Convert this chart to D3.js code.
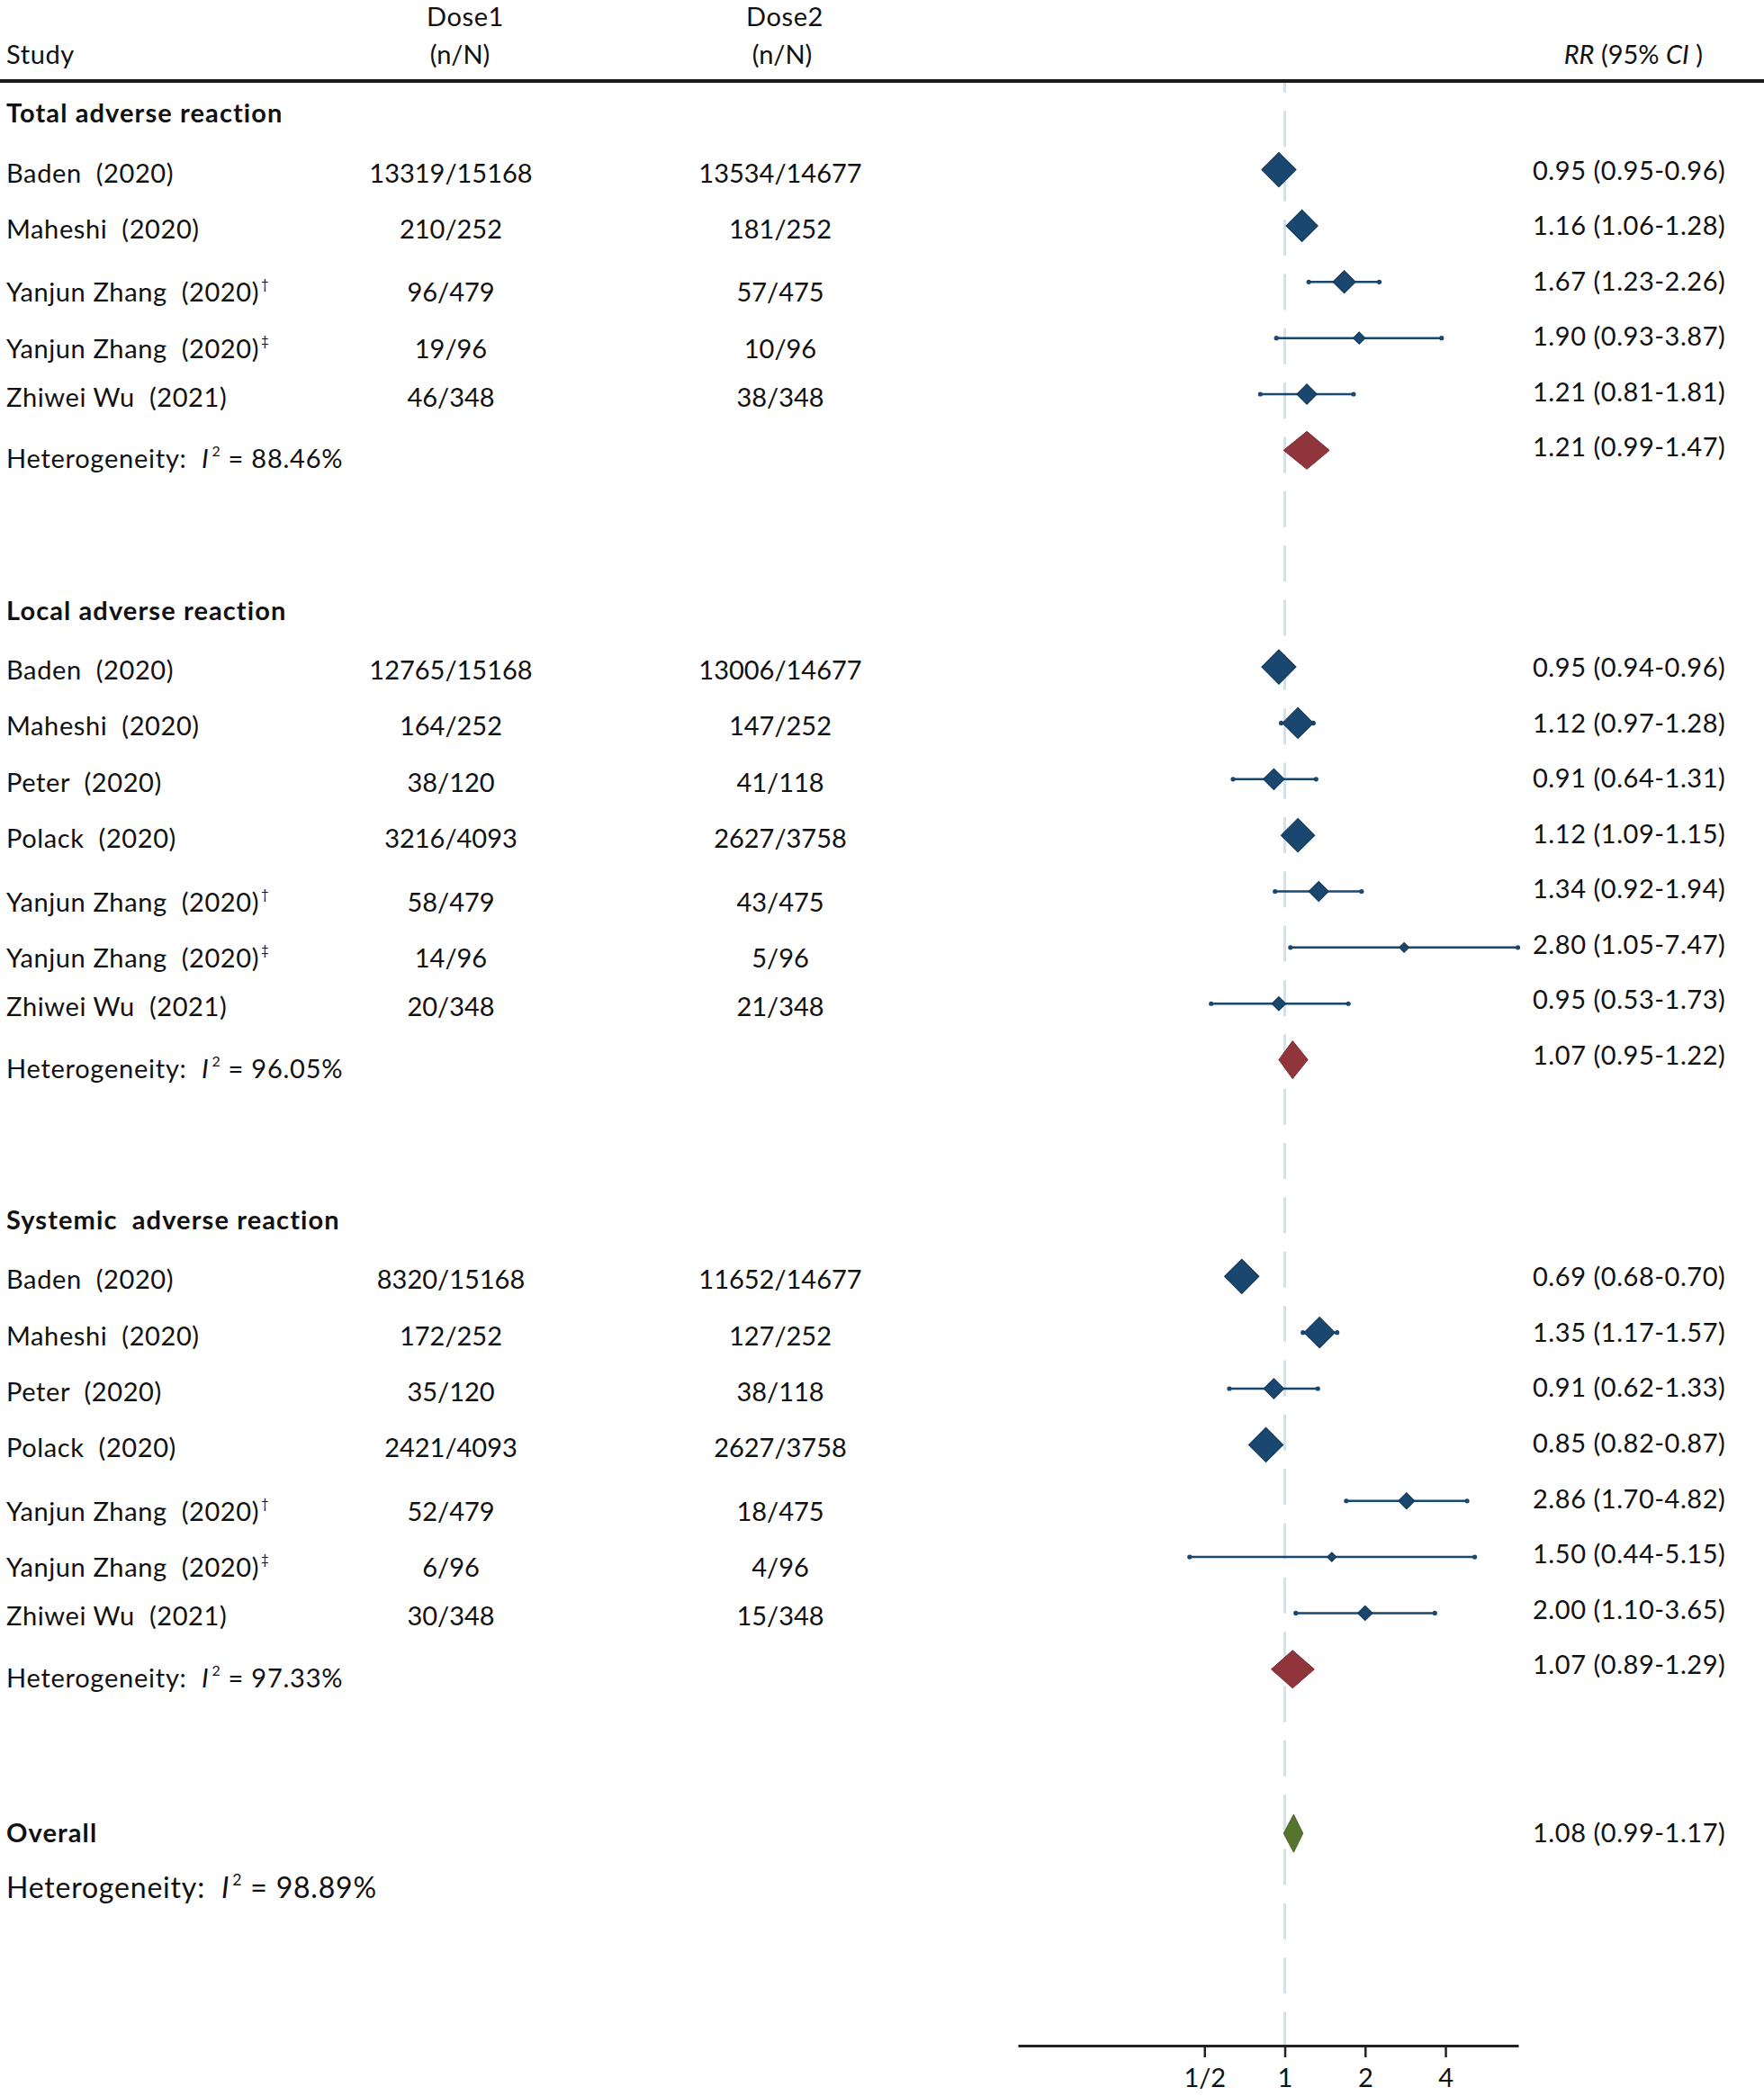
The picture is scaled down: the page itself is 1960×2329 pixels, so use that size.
<!DOCTYPE html>
<html>
<head>
<meta charset="utf-8">
<script src="https://cdn.jsdelivr.net/npm/d3@7"></script>
<style>
  html, body { margin: 0; padding: 0; background: #ffffff; }
  svg { display: block; }
  text { white-space: pre; font-family: Lato, "Open Sans", "Liberation Sans", sans-serif; fill: #111; }
</style>
</head>
<body>
<svg id="chart" width="1960" height="2329"></svg>
<script>
// ---------------- DATA ----------------
const sectionTitles = ["Total adverse reaction", "Local adverse reaction", "Systemic  adverse reaction"];

const totalStudy  = ["Baden  (2020)", "Maheshi  (2020)", "Yanjun Zhang  (2020)", "Yanjun Zhang  (2020)", "Zhiwei Wu  (2021)"];
const totalMark   = ["", "", "†", "‡", ""];
const totalDose1  = ["13319/15168", "210/252", "96/479", "19/96", "46/348"];
const totalDose2  = ["13534/14677", "181/252", "57/475", "10/96", "38/348"];
const totalRR     = [0.95, 1.16, 1.67, 1.90, 1.21];
const totalLo     = [0.95, 1.06, 1.23, 0.93, 0.81];
const totalHi     = [0.96, 1.28, 2.26, 3.87, 1.81];
const totalWeight = [10.0, 8.5, 4.3, 1.2, 3.4];

const localStudy  = ["Baden  (2020)", "Maheshi  (2020)", "Peter  (2020)", "Polack  (2020)", "Yanjun Zhang  (2020)", "Yanjun Zhang  (2020)", "Zhiwei Wu  (2021)"];
const localMark   = ["", "", "", "", "†", "‡", ""];
const localDose1  = ["12765/15168", "164/252", "38/120", "3216/4093", "58/479", "14/96", "20/348"];
const localDose2  = ["13006/14677", "147/252", "41/118", "2627/3758", "43/475", "5/96", "21/348"];
const localRR     = [0.95, 1.12, 0.91, 1.12, 1.34, 2.80, 0.95];
const localLo     = [0.94, 0.97, 0.64, 1.09, 0.92, 1.05, 0.53];
const localHi     = [0.96, 1.28, 1.31, 1.15, 1.94, 7.47, 1.73];
const localWeight = [10.0, 8.0, 3.7, 9.5, 3.3, 0.8, 1.6];

const systStudy   = ["Baden  (2020)", "Maheshi  (2020)", "Peter  (2020)", "Polack  (2020)", "Yanjun Zhang  (2020)", "Yanjun Zhang  (2020)", "Zhiwei Wu  (2021)"];
const systMark    = ["", "", "", "", "†", "‡", ""];
const systDose1   = ["8320/15168", "172/252", "35/120", "2421/4093", "52/479", "6/96", "30/348"];
const systDose2   = ["11652/14677", "127/252", "38/118", "2627/3758", "18/475", "4/96", "15/348"];
const systRR      = [0.69, 1.35, 0.91, 0.85, 2.86, 1.50, 2.00];
const systLo      = [0.68, 1.17, 0.62, 0.82, 1.70, 0.44, 1.10];
const systHi      = [0.70, 1.57, 1.33, 0.87, 4.82, 5.15, 3.65];
const systWeight  = [10.0, 8.0, 3.4, 10.0, 2.2, 0.7, 1.8];

const pooledRR = [1.21, 1.07, 1.07];
const pooledLo = [0.99, 0.95, 0.89];
const pooledHi = [1.47, 1.22, 1.29];
const pooledI2 = ["88.46%", "96.05%", "97.33%"];

const overallRR = 1.08, overallLo = 0.99, overallHi = 1.17, overallI2 = "98.89%";

const tickValues = [0.5, 1, 2, 4];
const tickLabels = ["1/2", "1", "2", "4"];

// ---------------- BUILD ----------------
function zipSection(study, mark, d1, d2, rr, lo, hi, w) {
  return study.map((s, i) => ({ study: s, mark: mark[i], dose1: d1[i], dose2: d2[i], rr: rr[i], lo: lo[i], hi: hi[i], w: w[i] }));
}
const sections = [
  zipSection(totalStudy, totalMark, totalDose1, totalDose2, totalRR, totalLo, totalHi, totalWeight),
  zipSection(localStudy, localMark, localDose1, localDose2, localRR, localLo, localHi, localWeight),
  zipSection(systStudy, systMark, systDose1, systDose2, systRR, systLo, systHi, systWeight)
];

const W = 1960, H = 2329;
const svg = d3.select("#chart");
const FS = 29;
const LS_TXT = 0.6, LS_BOLD = 1.1, LS_RR = 0.55;
const C_NAVY = "#1a476f", C_NAVY_D = "#14395a", C_RED = "#90353b", C_GREEN = "#55752f", C_REF = "#d6e1e7";

const x = d3.scaleLog().domain([0.1, 7.5]).range([1131, 1687]);
const size = d3.scaleSqrt().domain([0, 10]).range([0, 19]);
const fmt = d3.format(".2f");
const rrText = (r, l, h) => `${fmt(r)} (${fmt(l)}-${fmt(h)})`;

const colStudy = 7, colDose1 = 501, colDose2 = 867, colRR = 1703;
const axisY = 2273, headLineY = 90;
const unit = 62.36, gapUnits = 2.86;

// Header
const hdr = svg.append("g");
hdr.append("text").attr("x", 517).attr("y", 29).attr("text-anchor", "middle").attr("font-size", FS).attr("letter-spacing", LS_TXT).text("Dose1");
hdr.append("text").attr("x", 872).attr("y", 29).attr("text-anchor", "middle").attr("font-size", FS).attr("letter-spacing", LS_TXT).text("Dose2");
hdr.append("text").attr("x", colStudy).attr("y", 71).attr("font-size", FS).attr("letter-spacing", LS_TXT).text("Study");
hdr.append("text").attr("x", 511).attr("y", 71).attr("text-anchor", "middle").attr("font-size", FS).text("(n/N)");
hdr.append("text").attr("x", 869).attr("y", 71).attr("text-anchor", "middle").attr("font-size", FS).text("(n/N)");
const rrH = hdr.append("text").attr("x", 1892).attr("y", 71).attr("text-anchor", "end").attr("font-size", FS);
rrH.append("tspan").attr("font-style", "italic").text("RR");
rrH.append("tspan").text(" (95% ");
rrH.append("tspan").attr("font-style", "italic").text("CI");
rrH.append("tspan").text(" )");
svg.append("line").attr("x1", 0).attr("x2", W).attr("y1", headLineY).attr("y2", headLineY)
  .attr("stroke", "#1a1a1a").attr("stroke-width", 4);

// Reference line at RR = 1
svg.append("line").attr("x1", x(1)).attr("x2", x(1)).attr("y1", headLineY + 2).attr("y2", axisY)
  .attr("stroke", C_REF).attr("stroke-width", 3)
  .attr("stroke-dasharray", "40 20.35").attr("stroke-dashoffset", 29);

const plot = svg.append("g");
const labels = svg.append("g");

function hetLabel(g, xx, yy, val, fs, ls) {
  const t = g.append("text").attr("x", xx).attr("y", yy).attr("font-size", fs).attr("letter-spacing", ls);
  t.append("tspan").text("Heterogeneity:  ");
  t.append("tspan").attr("font-style", "italic").text("I");
  t.append("tspan").attr("font-size", fs * 0.55).attr("dy", -fs * 0.45).attr("dx", 3).text("2");
  t.append("tspan").attr("dy", fs * 0.45).text(" = " + val);
}

let cur = 126.2;
sections.forEach((rows, s) => {
  const headY = cur;
  labels.append("text").attr("x", colStudy).attr("y", headY + 10).attr("font-size", FS)
    .attr("font-weight", "bold").attr("letter-spacing", LS_BOLD).text(sectionTitles[s]);

  rows.forEach((r, i) => {
    const y = headY + unit * (i + 1);
    const ty = y + 14 + (r.mark ? 8 : 0);
    const t = labels.append("text").attr("x", colStudy).attr("y", ty).attr("font-size", FS)
      .attr("letter-spacing", LS_TXT).text(r.study);
    if (r.mark) t.append("tspan").attr("font-size", 15).attr("dy", -14).attr("dx", 2).text(r.mark);
    labels.append("text").attr("x", colDose1).attr("y", ty).attr("text-anchor", "middle").attr("font-size", FS).text(r.dose1);
    labels.append("text").attr("x", colDose2).attr("y", ty).attr("text-anchor", "middle").attr("font-size", FS).text(r.dose2);
    labels.append("text").attr("x", colRR).attr("y", y + 11 - 0.8 * i).attr("font-size", FS)
      .attr("letter-spacing", LS_RR).text(rrText(r.rr, r.lo, r.hi));

    // CI whisker
    plot.append("line").attr("x1", x(r.lo)).attr("x2", x(r.hi)).attr("y1", y).attr("y2", y)
      .attr("stroke", C_NAVY).attr("stroke-width", 2.5);
    [r.lo, r.hi].forEach(v => plot.append("circle").attr("cx", x(v)).attr("cy", y).attr("r", 2.6).attr("fill", C_NAVY));
    // weight marker
    const h = size(r.w), cx = x(r.rr);
    plot.append("path").attr("d", `M${cx - h},${y}L${cx},${y - h}L${cx + h},${y}L${cx},${y + h}Z`)
      .attr("fill", C_NAVY).attr("stroke", C_NAVY_D).attr("stroke-width", 1.2);
  });

  const n = rows.length;
  const py = headY + unit * (n + 1);
  hetLabel(labels, colStudy, py + 20, pooledI2[s], FS, LS_TXT + 0.15);
  labels.append("text").attr("x", colRR).attr("y", py + 11 - 0.8 * n).attr("font-size", FS)
    .attr("letter-spacing", LS_RR).text(rrText(pooledRR[s], pooledLo[s], pooledHi[s]));
  plot.append("path")
    .attr("d", `M${x(pooledLo[s])},${py}L${x(pooledRR[s])},${py - 21}L${x(pooledHi[s])},${py}L${x(pooledRR[s])},${py + 21}Z`)
    .attr("fill", C_RED).attr("stroke", "#7a2a30").attr("stroke-width", 1);
  cur = py + gapUnits * unit;
});

// Overall
const oy = cur + 4;
labels.append("text").attr("x", colStudy).attr("y", oy + 10).attr("font-size", FS).attr("font-weight", "bold")
  .attr("letter-spacing", LS_BOLD).text("Overall");
labels.append("text").attr("x", colRR).attr("y", oy + 10).attr("font-size", FS)
  .attr("letter-spacing", LS_RR).text(rrText(overallRR, overallLo, overallHi));
plot.append("path")
  .attr("d", `M${x(overallLo)},${oy}L${x(overallRR)},${oy - 21}L${x(overallHi)},${oy}L${x(overallRR)},${oy + 21}Z`)
  .attr("fill", C_GREEN).attr("stroke", "#48652a").attr("stroke-width", 1);
hetLabel(labels, colStudy, oy + 72, overallI2, 32, 0.8);

// Axis
const axis = d3.axisBottom(x).tickValues(tickValues).tickFormat((d, i) => tickLabels[i])
  .tickSize(13).tickSizeOuter(0).tickPadding(12);
const ag = svg.append("g").attr("transform", `translate(0,${axisY})`).call(axis);
ag.select(".domain").attr("stroke", "#222").attr("stroke-width", 3);
ag.selectAll(".tick line").attr("stroke", "#222").attr("stroke-width", 2.5);
ag.selectAll(".tick text").attr("font-size", FS).attr("fill", "#111")
  .attr("font-family", 'Lato, "Open Sans", sans-serif');
</script>
</body>
</html>
